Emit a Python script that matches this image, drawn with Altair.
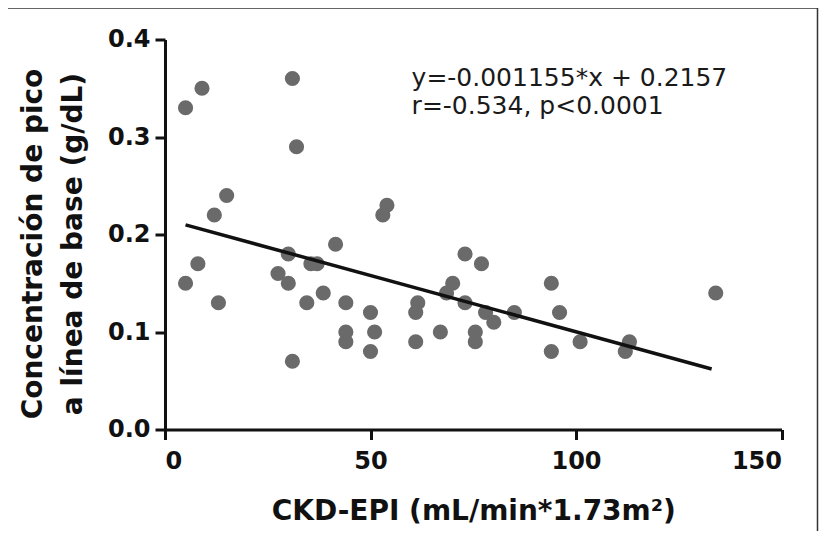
import altair as alt
import pandas as pd

# Scatter data (CKD-EPI vs peak/baseline concentration)
x_vals = [5, 9, 31, 32, 15, 12, 5, 8, 13, 27.5, 30, 30, 31, 34.5, 35.5, 37, 38.5,
          41.5, 44, 44, 44, 50, 51, 50, 54, 53, 61.5, 61, 61, 67, 68.5, 70, 73, 73,
          75.5, 75.5, 77, 78, 80, 85, 94, 96, 94, 101, 113, 112, 134]
y_vals = [0.33, 0.35, 0.36, 0.29, 0.24, 0.22, 0.15, 0.17, 0.13, 0.16, 0.18, 0.15,
          0.07, 0.13, 0.17, 0.17, 0.14, 0.19, 0.13, 0.10, 0.09, 0.12, 0.10, 0.08,
          0.23, 0.22, 0.13, 0.12, 0.09, 0.10, 0.14, 0.15, 0.18, 0.13, 0.10, 0.09,
          0.17, 0.12, 0.11, 0.12, 0.15, 0.12, 0.08, 0.09, 0.09, 0.08, 0.14]

# Fitted line (as stated in the figure)
slope = -0.001155
intercept = 0.2157
fit_x = [5, 133]

# Annotation text
annot_lines = ["y=-0.001155*x + 0.2157", "r=-0.534, p<0.0001"]
annot_x = [60, 60]
annot_y = [0.352, 0.324]

x_ticks = [0, 50, 100, 150]
y_ticks = [0.0, 0.1, 0.2, 0.3, 0.4]

pts = pd.DataFrame({"x": x_vals, "y": y_vals})
fit = pd.DataFrame({"x": fit_x, "y": [slope * v + intercept for v in fit_x]})
ann = pd.DataFrame({"x": annot_x, "y": annot_y, "t": annot_lines})

W, H = 616.5, 390
PL, PT = 157, 31.5
TOTAL_W, TOTAL_H = 811, 523

xs = alt.Scale(domain=[0, 150], nice=False, zero=True)
ys = alt.Scale(domain=[0, 0.4], nice=False, zero=True)

x_axis = alt.Axis(values=x_ticks, title="CKD-EPI (mL/min*1.73m²)", grid=False,
                  labelPadding=10, titlePadding=24, titleFontSize=28)
y_axis = alt.Axis(values=y_ticks, format=".1f", grid=False,
                  title=["Concentración de pico", "a línea de base (g/dL)"],
                  labelPadding=5, titleFontSize=28, titleLineHeight=40,
                  titleX=-118, titleY=204, titleAngle=270, titleAlign="center",
                  titleBaseline="bottom")

points = alt.Chart(pts).mark_circle(size=230, color="#6a6a6a", opacity=1).encode(
    x=alt.X("x:Q", scale=xs, axis=x_axis),
    y=alt.Y("y:Q", scale=ys, axis=y_axis),
)

line = alt.Chart(fit).mark_line(color="#111111", strokeWidth=3.5).encode(
    x=alt.X("x:Q", scale=xs),
    y=alt.Y("y:Q", scale=ys),
)

text = alt.Chart(ann).mark_text(align="left", baseline="alphabetic", font="DejaVu Sans",
                                fontSize=25, color="#1a1a1a").encode(
    x=alt.X("x:Q", scale=xs),
    y=alt.Y("y:Q", scale=ys),
    text="t:N",
)

frame = alt.Chart(alt.Data(values=[{}])).mark_rect(
    fill=None, stroke="#333333", strokeWidth=1.5
).encode(
    x=alt.value(4 - 165), x2=alt.value(652.5),
    y=alt.value(8 - 39.5), y2=alt.value(620),
)

chart = alt.layer(frame, points, line, text).properties(
    width=W, height=H,
    autosize=alt.AutoSizeParams(type="none"),
    padding={"left": PL, "top": PT, "right": TOTAL_W - PL - W, "bottom": TOTAL_H - PT - H},
    background="white",
).configure_view(stroke=None).configure_axis(
    domainColor="#111111", domainWidth=3, tickColor="#111111", tickWidth=3, tickSize=10,
    labelFont="DejaVu Sans", labelFontWeight="bold", labelFontSize=24, labelColor="#111111",
    titleFont="DejaVu Sans", titleFontWeight="bold", titleColor="#111111",
)

chart.save("out.html", embed_options={"renderer": "svg", "actions": False})
